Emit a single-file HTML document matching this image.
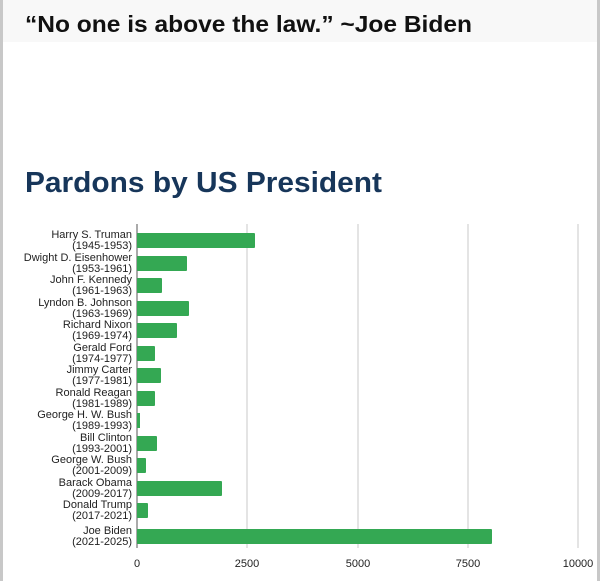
<!DOCTYPE html>
<html><head><meta charset="utf-8"><style>
html,body{margin:0;padding:0;background:#fff;}
svg{display:block}
</style></head><body>
<svg width="600" height="581" viewBox="0 0 600 581" xmlns="http://www.w3.org/2000/svg" font-family="Liberation Sans, Arial, sans-serif">
<rect width="600" height="581" fill="#fff"/>
<rect x="0" y="0" width="600" height="42" fill="#f8f8f8"/>
<rect x="0" y="0" width="3" height="581" fill="#c8c8c8"/>
<rect x="597" y="0" width="3" height="581" fill="#c8c8c8"/>
<text x="25" y="32" font-size="23" font-weight="bold" fill="#111" textLength="447" lengthAdjust="spacingAndGlyphs">“No one is above the law.” ~Joe Biden</text>
<text x="25" y="192" font-size="29" font-weight="bold" fill="#17365a" textLength="357" lengthAdjust="spacingAndGlyphs">Pardons by US President</text>
<g stroke="#dcdcdc" stroke-width="1.5">
<line x1="247" y1="224" x2="247" y2="548"/>
<line x1="358" y1="224" x2="358" y2="548"/>
<line x1="468" y1="224" x2="468" y2="548"/>
<line x1="578" y1="224" x2="578" y2="548"/>
</g>
<line x1="137" y1="224" x2="137" y2="548" stroke="#555" stroke-width="1"/>
<g fill="#34a853">
<rect x="137" y="233" width="118" height="15" rx="1"/>
<rect x="137" y="256" width="50" height="15" rx="1"/>
<rect x="137" y="278" width="25" height="15" rx="1"/>
<rect x="137" y="301" width="52" height="15" rx="1"/>
<rect x="137" y="323" width="40" height="15" rx="1"/>
<rect x="137" y="346" width="18" height="15" rx="1"/>
<rect x="137" y="368" width="24" height="15" rx="1"/>
<rect x="137" y="391" width="18" height="15" rx="1"/>
<rect x="137" y="413" width="3" height="15"/>
<rect x="137" y="436" width="20" height="15" rx="1"/>
<rect x="137" y="458" width="9" height="15" rx="1"/>
<rect x="137" y="481" width="85" height="15" rx="1"/>
<rect x="137" y="503" width="11" height="15" rx="1"/>
<rect x="137" y="529" width="355" height="15" rx="1"/>
</g>
<g font-size="11" fill="#222" text-anchor="end">
<text x="132" y="238">Harry S. Truman</text><text x="132" y="249">(1945-1953)</text>
<text x="132" y="261">Dwight D. Eisenhower</text><text x="132" y="272">(1953-1961)</text>
<text x="132" y="283">John F. Kennedy</text><text x="132" y="294">(1961-1963)</text>
<text x="132" y="306">Lyndon B. Johnson</text><text x="132" y="317">(1963-1969)</text>
<text x="132" y="328">Richard Nixon</text><text x="132" y="339">(1969-1974)</text>
<text x="132" y="351">Gerald Ford</text><text x="132" y="362">(1974-1977)</text>
<text x="132" y="373">Jimmy Carter</text><text x="132" y="384">(1977-1981)</text>
<text x="132" y="396">Ronald Reagan</text><text x="132" y="407">(1981-1989)</text>
<text x="132" y="418">George H. W. Bush</text><text x="132" y="429">(1989-1993)</text>
<text x="132" y="441">Bill Clinton</text><text x="132" y="452">(1993-2001)</text>
<text x="132" y="463">George W. Bush</text><text x="132" y="474">(2001-2009)</text>
<text x="132" y="486">Barack Obama</text><text x="132" y="497">(2009-2017)</text>
<text x="132" y="508">Donald Trump</text><text x="132" y="519">(2017-2021)</text>
<text x="132" y="534">Joe Biden</text><text x="132" y="545">(2021-2025)</text>
</g>
<g font-size="11" fill="#222" text-anchor="middle">
<text x="137" y="567">0</text>
<text x="247" y="567">2500</text>
<text x="358" y="567">5000</text>
<text x="468" y="567">7500</text>
<text x="578" y="567">10000</text>
</g>
</svg>
</body></html>
